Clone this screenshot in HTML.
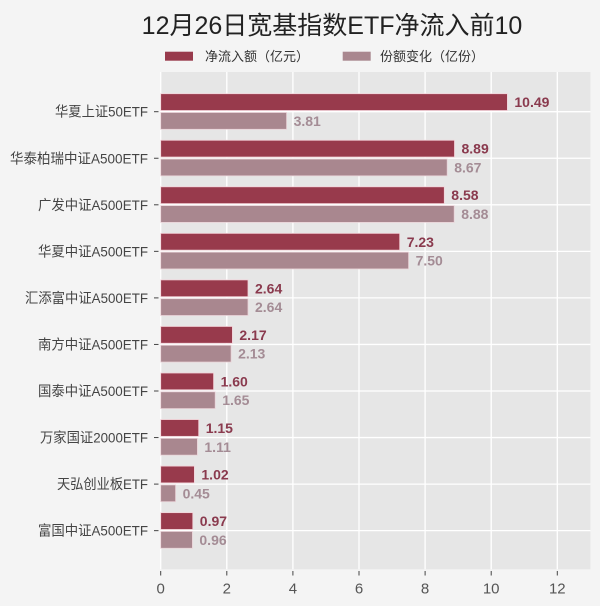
<!DOCTYPE html>
<html>
<head>
<meta charset="utf-8">
<style>
  html,body{margin:0;padding:0;background:#f4f4f4;}
  svg{display:block;}
  text{font-family:"Liberation Sans","Noto Sans CJK SC",sans-serif;}
</style>
</head>
<body>
<svg width="600" height="606" viewBox="0 0 600 606" xmlns="http://www.w3.org/2000/svg">
  <rect x="0" y="0" width="600" height="606" fill="#f4f4f4"/>

  <!-- Title -->
  <text x="332" y="34" font-size="25" fill="#222" text-anchor="middle">12月26日宽基指数ETF净流入前10</text>

  <!-- Legend -->
  <rect x="165" y="51.7" width="28" height="9" fill="#983a4c"/>
  <text x="205" y="60.8" font-size="13" fill="#333">净流入额（亿元）</text>
  <rect x="342.7" y="51.7" width="28" height="9" fill="#a9878f"/>
  <text x="380" y="60.8" font-size="13" fill="#333">份额变化（亿份）</text>

  <!-- Plot background -->
  <rect x="160.7" y="72" width="429.7" height="497.3" fill="#e6e6e6"/>

  <!-- Vertical gridlines -->
  <g stroke="#ffffff" stroke-width="1.3">
    <line x1="160.7" y1="72" x2="160.7" y2="569.3"/>
    <line x1="226.8" y1="72" x2="226.8" y2="569.3"/>
    <line x1="292.9" y1="72" x2="292.9" y2="569.3"/>
    <line x1="359.0" y1="72" x2="359.0" y2="569.3"/>
    <line x1="425.1" y1="72" x2="425.1" y2="569.3"/>
    <line x1="491.2" y1="72" x2="491.2" y2="569.3"/>
    <line x1="557.3" y1="72" x2="557.3" y2="569.3"/>
  </g>
  <!-- Horizontal gridlines -->
  <g stroke="#ffffff" stroke-width="1.3">
    <line x1="160.7" y1="111.7" x2="590.4" y2="111.7"/>
    <line x1="160.7" y1="158.25" x2="590.4" y2="158.25"/>
    <line x1="160.7" y1="204.8" x2="590.4" y2="204.8"/>
    <line x1="160.7" y1="251.35" x2="590.4" y2="251.35"/>
    <line x1="160.7" y1="297.9" x2="590.4" y2="297.9"/>
    <line x1="160.7" y1="344.45" x2="590.4" y2="344.45"/>
    <line x1="160.7" y1="391.0" x2="590.4" y2="391.0"/>
    <line x1="160.7" y1="437.55" x2="590.4" y2="437.55"/>
    <line x1="160.7" y1="484.1" x2="590.4" y2="484.1"/>
    <line x1="160.7" y1="530.65" x2="590.4" y2="530.65"/>
  </g>

  <!-- Dark bars -->
  <g fill="#983a4c" stroke="#f3d3d9" stroke-width="0.8">
    <rect x="160.7" y="93.7" width="346.7" height="16.8"/>
    <rect x="160.7" y="140.25" width="293.8" height="16.8"/>
    <rect x="160.7" y="186.8" width="283.6" height="16.8"/>
    <rect x="160.7" y="233.35" width="239.0" height="16.8"/>
    <rect x="160.7" y="279.9" width="87.3" height="16.8"/>
    <rect x="160.7" y="326.45" width="71.7" height="16.8"/>
    <rect x="160.7" y="373.0" width="52.9" height="16.8"/>
    <rect x="160.7" y="419.55" width="38.0" height="16.8"/>
    <rect x="160.7" y="466.1" width="33.7" height="16.8"/>
    <rect x="160.7" y="512.65" width="32.1" height="16.8"/>
  </g>
  <!-- Light bars -->
  <g fill="#a9878f" stroke="#ead3d8" stroke-width="0.8">
    <rect x="160.7" y="112.5" width="125.9" height="16.8"/>
    <rect x="160.7" y="159.05" width="286.5" height="16.8"/>
    <rect x="160.7" y="205.6" width="293.5" height="16.8"/>
    <rect x="160.7" y="252.15" width="247.9" height="16.8"/>
    <rect x="160.7" y="298.7" width="87.3" height="16.8"/>
    <rect x="160.7" y="345.25" width="70.4" height="16.8"/>
    <rect x="160.7" y="391.8" width="54.5" height="16.8"/>
    <rect x="160.7" y="438.35" width="36.7" height="16.8"/>
    <rect x="160.7" y="484.9" width="14.9" height="16.8"/>
    <rect x="160.7" y="531.45" width="31.7" height="16.8"/>
  </g>

  <!-- Dark value labels -->
  <g font-size="14" font-weight="700" fill="#8a3a4e">
    <text x="514.4" y="107.1">10.49</text>
    <text x="461.5" y="153.65">8.89</text>
    <text x="451.3" y="200.2">8.58</text>
    <text x="406.7" y="246.75">7.23</text>
    <text x="255.0" y="293.3">2.64</text>
    <text x="239.4" y="339.85">2.17</text>
    <text x="220.6" y="386.4">1.60</text>
    <text x="205.7" y="432.95">1.15</text>
    <text x="201.4" y="479.5">1.02</text>
    <text x="199.8" y="526.05">0.97</text>
  </g>
  <!-- Light value labels -->
  <g font-size="14" font-weight="700" fill="#a48c95">
    <text x="293.6" y="125.9">3.81</text>
    <text x="454.2" y="172.45">8.67</text>
    <text x="461.2" y="219.0">8.88</text>
    <text x="415.6" y="265.55">7.50</text>
    <text x="255.0" y="312.1">2.64</text>
    <text x="238.1" y="358.65">2.13</text>
    <text x="222.2" y="405.2">1.65</text>
    <text x="204.4" y="451.75">1.11</text>
    <text x="182.6" y="498.3">0.45</text>
    <text x="199.4" y="544.85">0.96</text>
  </g>

  <!-- Y ticks -->
  <g stroke="#444" stroke-width="1">
    <line x1="154" y1="111.7" x2="158.5" y2="111.7"/>
    <line x1="154" y1="158.25" x2="158.5" y2="158.25"/>
    <line x1="154" y1="204.8" x2="158.5" y2="204.8"/>
    <line x1="154" y1="251.35" x2="158.5" y2="251.35"/>
    <line x1="154" y1="297.9" x2="158.5" y2="297.9"/>
    <line x1="154" y1="344.45" x2="158.5" y2="344.45"/>
    <line x1="154" y1="391.0" x2="158.5" y2="391.0"/>
    <line x1="154" y1="437.55" x2="158.5" y2="437.55"/>
    <line x1="154" y1="484.1" x2="158.5" y2="484.1"/>
    <line x1="154" y1="530.65" x2="158.5" y2="530.65"/>
  </g>
  <!-- Y labels -->
  <g font-size="14" fill="#444" text-anchor="end">
    <text x="148" y="116.7" textLength="93" lengthAdjust="spacingAndGlyphs">华夏上证50ETF</text>
    <text x="148" y="163.25" textLength="138" lengthAdjust="spacingAndGlyphs">华泰柏瑞中证A500ETF</text>
    <text x="148" y="209.8" textLength="110" lengthAdjust="spacingAndGlyphs">广发中证A500ETF</text>
    <text x="148" y="256.35" textLength="110" lengthAdjust="spacingAndGlyphs">华夏中证A500ETF</text>
    <text x="148" y="302.9" textLength="123" lengthAdjust="spacingAndGlyphs">汇添富中证A500ETF</text>
    <text x="148" y="349.45" textLength="110" lengthAdjust="spacingAndGlyphs">南方中证A500ETF</text>
    <text x="148" y="396" textLength="110" lengthAdjust="spacingAndGlyphs">国泰中证A500ETF</text>
    <text x="148" y="442.55" textLength="108" lengthAdjust="spacingAndGlyphs">万家国证2000ETF</text>
    <text x="148" y="489.1" textLength="91" lengthAdjust="spacingAndGlyphs">天弘创业板ETF</text>
    <text x="148" y="535.65" textLength="110" lengthAdjust="spacingAndGlyphs">富国中证A500ETF</text>
  </g>

  <!-- X ticks -->
  <g stroke="#444" stroke-width="1">
    <line x1="160.7" y1="571" x2="160.7" y2="575.5"/>
    <line x1="226.8" y1="571" x2="226.8" y2="575.5"/>
    <line x1="292.9" y1="571" x2="292.9" y2="575.5"/>
    <line x1="359.0" y1="571" x2="359.0" y2="575.5"/>
    <line x1="425.1" y1="571" x2="425.1" y2="575.5"/>
    <line x1="491.2" y1="571" x2="491.2" y2="575.5"/>
    <line x1="557.3" y1="571" x2="557.3" y2="575.5"/>
  </g>
  <g font-size="15" fill="#555" text-anchor="middle">
    <text x="160.7" y="593.5">0</text>
    <text x="226.8" y="593.5">2</text>
    <text x="292.9" y="593.5">4</text>
    <text x="359.0" y="593.5">6</text>
    <text x="425.1" y="593.5">8</text>
    <text x="491.2" y="593.5">10</text>
    <text x="557.3" y="593.5">12</text>
  </g>
</svg>
</body>
</html>
